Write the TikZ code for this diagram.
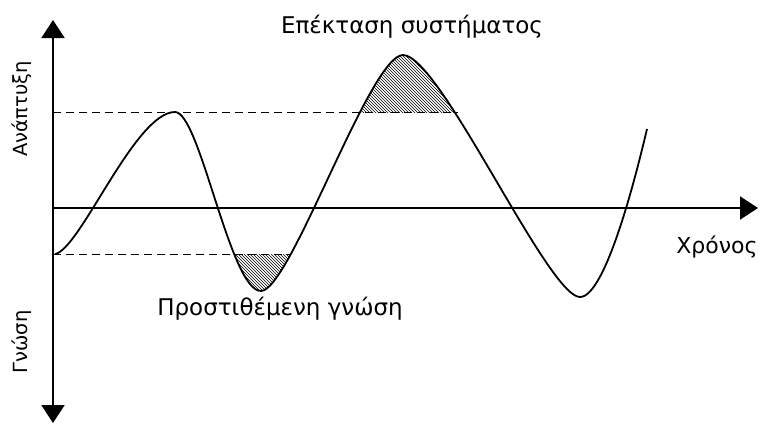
\documentclass[tikz,border=0pt]{standalone}
\usepackage{fontspec}
\setmainfont{DejaVu Sans}
\usetikzlibrary{arrows.meta,patterns}
\newcommand{\wavepath}{(55,254) .. controls (80,250) and (135,112) .. (175,112)
  .. controls (200,112) and (230,291) .. (261,291)
  .. controls (290,291) and (370,55) .. (403,55)
  .. controls (440,55) and (548,297) .. (580,297)
  .. controls (605,297) and (635,180) .. (647,129)}
\begin{document}
\begin{tikzpicture}[x=1pt, y=-1pt, >={Triangle[width=23pt,length=18pt]},
  axis/.style={line width=2pt},
  guide/.style={dashed, line width=.8pt, dash pattern=on 8pt off 5pt},
  lbl/.style={font=\fontsize{23}{25}\selectfont, anchor=base},
  side/.style={font=\fontsize{19.5}{21}\selectfont, rotate=90}]
\useasboundingbox (0,0) rectangle (764,424);
\coordinate (top) at (53,20);
\coordinate (bot) at (53,423);
\coordinate (O) at (53,208);
\coordinate (xend) at (758,208);
\coordinate (hi0) at (53,112);
\coordinate (hi1) at (458,112);
\coordinate (lo0) at (53,254);
\coordinate (lo1) at (290,254);
\begin{scope}
\clip (330,0) rectangle (470,112);
\fill[pattern=north west lines] \wavepath -- cycle;
\end{scope}
\begin{scope}
\clip (200,254) rectangle (300,424);
\fill[pattern=north west lines] \wavepath -- cycle;
\end{scope}
\draw[guide] (hi0) -- (hi1);
\draw[guide] (lo0) -- (lo1);
\draw[axis, <->] (bot) -- (top);
\draw[axis, ->] (O) -- (xend);
\draw[line width=1.8pt] \wavepath;
\node[lbl] (ext) at (412,33) {Επέκταση συστήματος};
\node[lbl] (add) at (280,315) {Προστιθέμενη γνώση};
\node[lbl, font=\fontsize{22}{24}\selectfont] (time) at (717,253) {Χρόνος};
\node[side] (dev) at (22,109) {Ανάπτυξη};
\node[side] (know) at (22,342) {Γνώση};
\end{tikzpicture}
\end{document}
